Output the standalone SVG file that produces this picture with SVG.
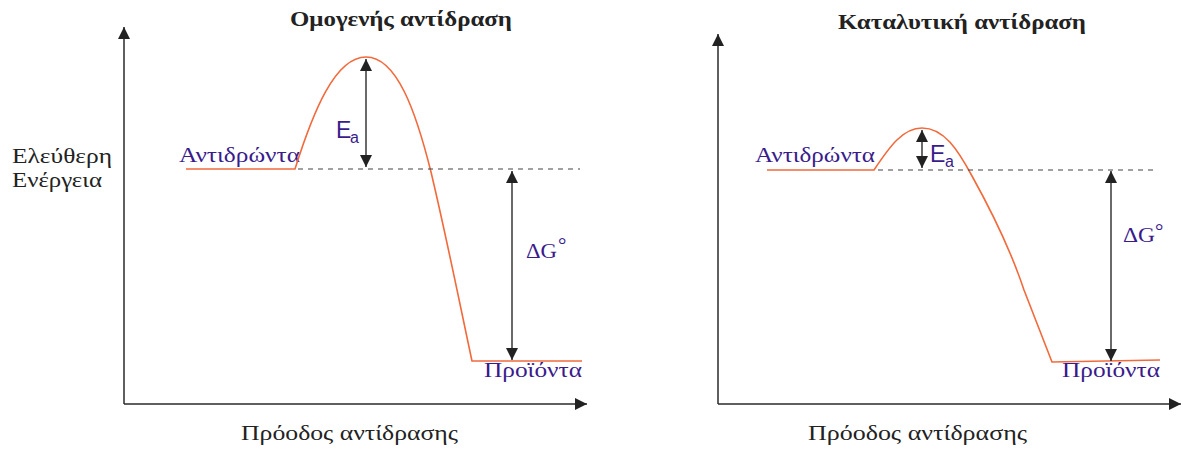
<svg xmlns="http://www.w3.org/2000/svg" width="1183" height="449" viewBox="0 0 1183 449">
<style>
.axis{stroke:#2a2a2a;stroke-width:1.5;fill:none}
.curve{stroke:#f26a3c;stroke-width:1.6;fill:none}
.dash{stroke:#444;stroke-width:1.1;stroke-dasharray:5 5;fill:none}
.arr{stroke:#2a2a2a;stroke-width:1.4;fill:none}
.title{font-family:"Liberation Serif",serif;font-weight:bold;font-size:22px;fill:#222}
.lbl{font-family:"Liberation Serif",serif;font-size:20px;fill:#222}
.pur{font-family:"Liberation Serif",serif;font-size:21px;fill:#3a1b8c}
.ea{font-family:"Liberation Sans",sans-serif;fill:#3a1b8c}
</style>
<defs>
<marker id="ah" markerUnits="userSpaceOnUse" markerWidth="12" markerHeight="12" refX="10" refY="5" orient="auto-start-reverse" viewBox="0 0 10 10">
<path d="M0,0 L10,5 L0,10 Z" fill="#222"/>
</marker>
</defs>
<g id="left-chart">
<text class="title" x="290" y="26" textLength="222" lengthAdjust="spacingAndGlyphs">Ομογενής αντίδραση</text>
<text class="lbl" x="12" y="163" textLength="100" lengthAdjust="spacingAndGlyphs">Ελεύθερη</text>
<text class="lbl" x="12" y="187" textLength="90" lengthAdjust="spacingAndGlyphs">Ενέργεια</text>
<text class="lbl" x="241" y="440" textLength="217" lengthAdjust="spacingAndGlyphs">Πρόοδος αντίδρασης</text>
<path class="axis" d="M124,404 V27" marker-end="url(#ah)"/>
<path class="axis" d="M124,404 H587" marker-end="url(#ah)"/>
</g>
<g id="left-reactants"><text class="pur" x="179" y="162" textLength="121" lengthAdjust="spacingAndGlyphs">Αντιδρώντα</text></g>
<g id="left-products"><text class="pur" x="484" y="377" textLength="98" lengthAdjust="spacingAndGlyphs">Προϊόντα</text></g>
<g id="left-ea"><text class="ea" x="336" y="138" font-size="23">E</text><text class="ea" x="350" y="143" font-size="16">a</text></g>
<g id="left-dg"><text class="pur" x="526" y="258" font-size="20" textLength="31" lengthAdjust="spacingAndGlyphs">ΔG</text><text class="pur" x="558" y="252" font-size="16">°</text></g>
<g id="right-chart">
<text class="title" x="838" y="29" textLength="248" lengthAdjust="spacingAndGlyphs">Καταλυτική αντίδραση</text>
<text class="lbl" x="808" y="440" textLength="219" lengthAdjust="spacingAndGlyphs">Πρόοδος αντίδρασης</text>
<path class="axis" d="M718,404 V34" marker-end="url(#ah)"/>
<path class="axis" d="M718,404 H1181" marker-end="url(#ah)"/>
</g>
<g id="right-reactants"><text class="pur" x="755" y="162" textLength="120" lengthAdjust="spacingAndGlyphs">Αντιδρώντα</text></g>
<g id="right-products"><text class="pur" x="1062" y="377" textLength="98" lengthAdjust="spacingAndGlyphs">Προϊόντα</text></g>
<g id="right-ea"><text class="ea" x="930" y="162" font-size="23">E</text><text class="ea" x="945" y="167" font-size="16">a</text></g>
<g id="right-dg"><text class="pur" x="1123" y="242" font-size="20" textLength="32" lengthAdjust="spacingAndGlyphs">ΔG</text><text class="pur" x="1155" y="238" font-size="16">°</text></g>
<g id="connectors">
<path class="curve" d="M186,169 H295 C313,112 335,57 366,57 C397,57 416,112 431,172 C446,235 459,300 472,361 H582"/>
<path class="dash" d="M298,169 H580"/>
<path class="arr" d="M366,59 V167" marker-start="url(#ah)" marker-end="url(#ah)"/>
<path class="arr" d="M512,171 V360" marker-start="url(#ah)" marker-end="url(#ah)"/>
<path class="curve" d="M767,170 H874 C890,146 903,128 922,128 C944,128 958,150 972,176 C992,212 1010,248 1024,290 L1052,362 L1160,360"/>
<path class="dash" d="M878,170 H1155"/>
<path class="arr" d="M922,130 V168" marker-start="url(#ah)" marker-end="url(#ah)"/>
<path class="arr" d="M1111,171 V361" marker-start="url(#ah)" marker-end="url(#ah)"/>
</g>
</svg>
